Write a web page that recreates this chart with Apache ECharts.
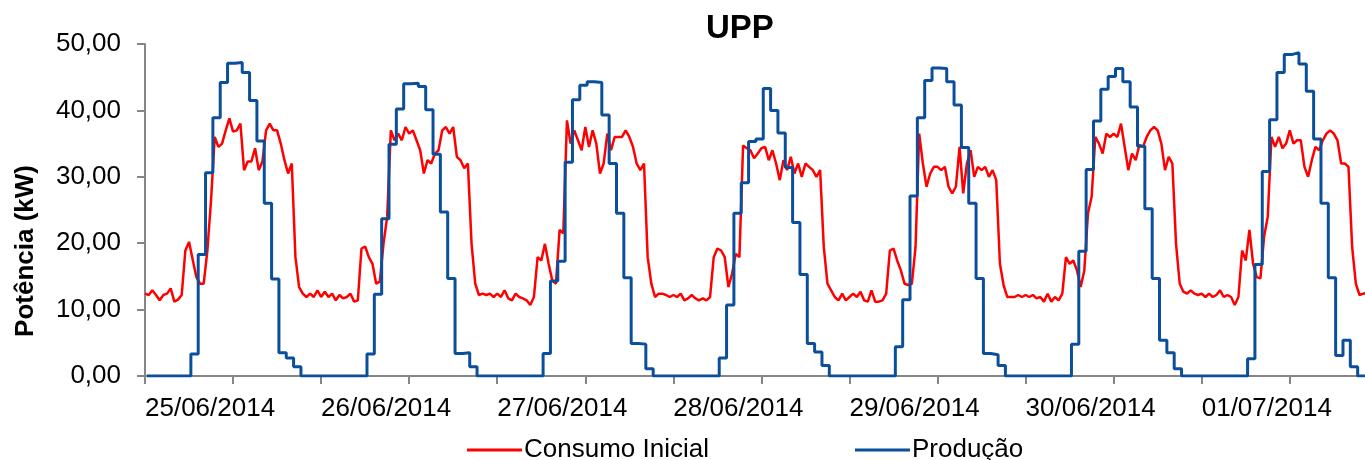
<!DOCTYPE html>
<html>
<head>
<meta charset="utf-8">
<title>UPP</title>
<script src="https://cdn.jsdelivr.net/npm/echarts@6/dist/echarts.min.js"></script>
<style>
    html, body { margin: 0; padding: 0; background: #fff; }
    #chart { width: 1365px; height: 460px; }
</style>
</head>
<body>
<div id="chart"></div>
<script>
// dias no eixo x (rótulo no início de cada dia)
const dateLabels = ['25/06/2014', '26/06/2014', '27/06/2014', '28/06/2014', '29/06/2014', '30/06/2014', '01/07/2014']

// Consumo Inicial (kW), um valor a cada 30 min, por dia
const consumo25 = [12.4, 12.2, 12.9, 12.2, 11.4, 12.2, 12.4, 13.2, 11.2, 11.5, 12.2, 18.9,
    20.2, 17.5, 14.9, 13.9, 13.9, 18.9, 26.5, 36.0, 34.5, 35.0, 37.0, 38.8,
    36.8, 37.0, 38.0, 31.0, 32.3, 32.3, 34.3, 31.0, 32.3, 37.0, 38.0, 37.0,
    37.0, 35.0, 32.5, 30.5, 32.0, 17.9, 13.4, 12.4, 11.9, 12.4, 11.9, 12.9]
const consumo26 = [11.9, 12.7, 11.9, 12.4, 11.4, 12.2, 11.7, 11.9, 12.4, 11.2, 11.4, 19.2,
    19.5, 17.9, 16.9, 13.9, 14.2, 19.9, 24.0, 37.0, 35.5, 36.5, 35.5, 37.5,
    36.5, 37.0, 35.5, 34.0, 30.5, 32.5, 32.0, 33.5, 34.0, 37.0, 37.5, 36.5,
    37.5, 33.0, 32.5, 31.3, 32.0, 19.9, 13.9, 12.2, 12.4, 12.2, 12.4, 11.9]
const consumo27 = [12.4, 11.9, 12.9, 11.7, 11.4, 12.4, 11.9, 11.7, 11.4, 10.7, 11.9, 17.9,
    17.4, 19.9, 16.9, 14.4, 13.9, 22.0, 21.5, 38.5, 35.0, 37.0, 35.5, 34.0,
    37.5, 34.5, 37.0, 35.0, 30.5, 32.0, 36.5, 34.0, 36.0, 36.0, 36.0, 37.0,
    36.0, 34.5, 32.0, 31.0, 32.0, 17.9, 13.9, 11.9, 12.4, 12.4, 12.2, 11.9]
const consumo28 = [12.2, 11.9, 12.4, 11.4, 11.7, 12.2, 11.7, 11.4, 11.7, 11.4, 11.9, 17.9,
    19.2, 18.9, 17.9, 13.4, 15.4, 18.4, 17.9, 34.7, 34.3, 34.0, 32.8, 33.5,
    34.3, 34.5, 32.5, 34.0, 32.0, 29.5, 32.5, 31.0, 33.0, 30.5, 32.0, 30.0,
    32.0, 31.5, 31.0, 30.0, 31.0, 19.4, 13.9, 12.9, 11.9, 11.4, 12.4, 11.4]
const consumo29 = [11.9, 12.4, 11.9, 12.7, 11.4, 11.2, 12.9, 11.2, 11.2, 11.4, 12.4, 18.9,
    19.2, 17.4, 15.9, 13.9, 13.7, 13.9, 19.4, 36.5, 32.0, 28.5, 30.5, 31.5,
    31.5, 31.0, 31.5, 28.5, 27.5, 28.5, 34.5, 27.5, 32.0, 34.0, 30.0, 31.5,
    31.0, 31.5, 30.0, 31.0, 29.5, 16.9, 13.7, 11.9, 11.9, 11.9, 12.2, 11.9]
const consumo30 = [12.2, 11.9, 12.2, 11.7, 11.9, 11.2, 12.4, 11.2, 11.9, 11.4, 12.4, 17.9,
    16.9, 17.4, 15.9, 13.4, 15.9, 24.5, 27.0, 36.0, 35.0, 33.5, 36.5, 36.0,
    36.5, 36.0, 38.0, 34.5, 31.0, 33.5, 32.5, 34.8, 34.5, 36.0, 37.0, 37.5,
    37.0, 35.0, 31.0, 33.0, 32.0, 19.9, 13.9, 12.7, 12.4, 12.9, 12.4, 12.2]
const consumo01 = [12.4, 11.9, 12.4, 11.9, 12.2, 12.9, 11.9, 12.2, 11.9, 10.7, 11.9, 18.9,
    17.4, 22.0, 16.9, 14.9, 14.7, 21.0, 24.0, 36.0, 34.5, 36.0, 34.3, 35.0,
    37.0, 35.0, 35.5, 35.5, 31.5, 30.0, 32.5, 34.5, 34.0, 35.5, 36.5, 37.0,
    36.5, 35.5, 32.0, 32.0, 31.5, 19.4, 13.9, 12.2, 12.4, 12.5]

// Produção (kW), valor horário, por dia
const producao25 = [0, 0, 0, 0, 0, 0, 3.3, 18.3, 30.6, 38.9, 44.2, 47.1, 47.2, 45.7, 41.5, 35.4, 26.0, 14.6, 3.5, 2.7, 1.4, 0, 0, 0]
const producao26 = [0, 0, 0, 0, 0, 0, 3.3, 12.3, 23.7, 34.9, 40.2, 44.0, 44.1, 43.6, 40.1, 33.4, 24.7, 14.7, 3.4, 3.5, 1.4, 0, 0, 0]
const producao27 = [0, 0, 0, 0, 0, 0, 3.4, 14.3, 17.3, 32.2, 41.6, 43.8, 44.3, 44.2, 39.3, 32.0, 24.5, 14.8, 4.9, 4.8, 1.1, 0, 0, 0]
const producao28 = [0, 0, 0, 0, 0, 0, 2.7, 10.7, 24.5, 29.1, 35.3, 35.7, 43.3, 40.0, 36.6, 31.4, 23.1, 15.3, 4.9, 3.6, 1.6, 0, 0, 0]
const producao29 = [0, 0, 0, 0, 0, 0, 4.4, 11.5, 27.1, 38.9, 44.5, 46.4, 46.3, 44.3, 40.8, 34.4, 26.0, 14.7, 3.4, 3.2, 1.6, 0, 0, 0]
const producao30 = [0, 0, 0, 0, 0, 0, 4.8, 18.8, 31.1, 38.4, 43.2, 45.1, 46.3, 44.3, 40.5, 34.6, 25.2, 14.7, 5.4, 3.5, 1.1, 0, 0, 0]
const producao01 = [0, 0, 0, 0, 0, 0, 2.6, 16.8, 30.8, 38.6, 45.7, 48.4, 48.7, 47.0, 42.9, 35.7, 26.0, 14.8, 3.1, 5.4, 1.4, 0, 0]

const consumoDias = [consumo25, consumo26, consumo27, consumo28, consumo29, consumo30, consumo01]
const producaoDias = [producao25, producao26, producao27, producao28, producao29, producao30, producao01]

const yTicks = [0, 10, 20, 30, 40, 50]

// x em horas desde 25/06 00:00
const consumoData = []
consumoDias.forEach((dia, d) => {
    dia.forEach((v, i) => consumoData.push([d * 24 + i * 0.5, v]))
})
const producaoData = []
producaoDias.forEach((dia, d) => {
    dia.forEach((v, h) => producaoData.push([d * 24 + h + 0.25, v]))
})

const halfDayTicks = []
for (let t = 0; t < 166; t += 12) halfDayTicks.push(t)
const dayStarts = dateLabels.map((_, i) => i * 24)

const FONT = '"Liberation Sans", Arial, sans-serif'
const AXIS_COLOR = '#868686'

const chart = echarts.init(document.getElementById('chart'))

const option = {
    animation: false,
    backgroundColor: '#ffffff',
    title: {
        text: 'UPP',
        left: 701,
        top: 7,
        textStyle: {
            fontFamily: FONT,
            fontSize: 33,
            fontWeight: 'bold',
            color: '#000'
        }
    },
    legend: {
        left: 462,
        top: 432,
        icon: 'rect',
        itemWidth: 55,
        itemHeight: 3,
        itemGap: 146,
        data: ['Consumo Inicial', 'Produção'],
        textStyle: {
            fontFamily: FONT,
            fontSize: 26,
            color: '#000',
            padding: [0, 0, 0, -3]
        }
    },
    grid: {
        left: 145,
        right: 0,
        top: 44,
        bottom: 84
    },
    xAxis: {
        type: 'value',
        min: 0,
        max: 166.25,
        splitLine: { show: false },
        axisLine: {
            lineStyle: { color: AXIS_COLOR, width: 2 }
        },
        axisTick: {
            customValues: halfDayTicks,
            length: 8,
            lineStyle: { color: AXIS_COLOR, width: 2 }
        },
        axisLabel: {
            customValues: dayStarts,
            align: 'left',
            margin: 20,
            fontFamily: FONT,
            fontSize: 26,
            color: '#000',
            formatter: function (v) {
                return dateLabels[Math.round(v / 24)]
            }
        }
    },
    yAxis: {
        type: 'value',
        min: yTicks[0],
        max: yTicks[yTicks.length - 1],
        interval: 10,
        name: 'Potência (kW)',
        nameLocation: 'middle',
        nameGap: 106,
        nameTextStyle: {
            fontFamily: FONT,
            fontSize: 26,
            fontWeight: 'bold',
            color: '#000',
            padding: [0, 82, 0, 0]
        },
        splitLine: { show: false },
        axisLine: {
            show: true,
            lineStyle: { color: AXIS_COLOR, width: 2 }
        },
        axisTick: {
            show: true,
            length: 8,
            lineStyle: { color: AXIS_COLOR, width: 2 }
        },
        axisLabel: {
            margin: 24,
            fontFamily: FONT,
            fontSize: 26,
            color: '#000',
            formatter: function (v) {
                return v.toFixed(2).replace('.', ',')
            }
        }
    },
    series: [
        {
            name: 'Consumo Inicial',
            type: 'line',
            data: consumoData,
            symbol: 'none',
            lineStyle: { color: '#ff0000', width: 2.5 },
            itemStyle: { color: '#ff0000' }
        },
        {
            name: 'Produção',
            type: 'line',
            data: producaoData,
            step: 'end',
            symbol: 'none',
            lineStyle: { color: '#0b4f9c', width: 3 },
            itemStyle: { color: '#0b4f9c' }
        }
    ]
}

chart.setOption(option)
</script>
</body>
</html>
